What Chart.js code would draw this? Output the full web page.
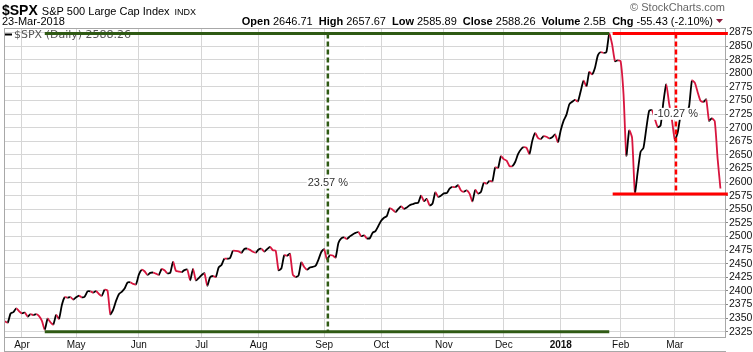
<!DOCTYPE html>
<html>
<head>
<meta charset="utf-8">
<script src="https://cdn.jsdelivr.net/npm/chart.js@4.4.1/dist/chart.umd.min.js"></script>
<style>
  html, body { margin: 0; padding: 0; background: #fff; }
  #wrap { width: 753px; height: 352px; }
</style>
</head>
<body>
<div id="wrap"><canvas id="spx" width="753" height="352"></canvas></div>
<script>
// daily closes, 24-Mar-2017 .. 23-Mar-2018
const closes = [
  // Mar 2017
  2343.98, 2341.59, 2358.57, 2361.13, 2368.06, 2362.72,
  // Apr
  2358.84, 2360.16, 2352.95, 2357.49, 2355.54, 2357.16, 2353.78, 2344.93, 2328.95, 2349.01,
  2342.19, 2338.17, 2355.84, 2348.69, 2374.15, 2388.61, 2387.45, 2388.77, 2384.20,
  // May
  2388.33, 2391.17, 2388.13, 2389.52, 2399.29, 2399.38, 2396.92, 2399.63, 2394.44, 2390.90, 2402.32,
  2400.67, 2357.03, 2365.72, 2381.73, 2394.02, 2398.42, 2404.39, 2415.07, 2415.82, 2412.91, 2411.80,
  // Jun
  2430.06, 2439.07, 2436.10, 2429.33, 2433.14, 2433.79, 2431.77, 2429.39, 2440.35, 2437.92, 2432.46,
  2433.15, 2453.46, 2437.03, 2435.61, 2434.50, 2438.30, 2439.07, 2419.38, 2440.69, 2419.70, 2423.41,
  // Jul
  2429.01, 2432.54, 2409.75, 2425.18, 2427.43, 2425.53, 2443.25, 2447.83, 2459.27, 2459.14,
  2460.61, 2473.83, 2473.45, 2472.54, 2469.91, 2477.13, 2477.83, 2475.42, 2472.10, 2470.30,
  // Aug
  2476.35, 2477.57, 2472.16, 2476.83, 2480.91, 2474.92, 2474.02, 2438.21, 2441.32, 2465.84, 2464.61, 2468.11,
  2430.01, 2425.55, 2428.37, 2452.51, 2444.04, 2438.97, 2443.05, 2444.24, 2446.30, 2457.59, 2471.65,
  // Sep
  2476.55, 2457.85, 2465.54, 2465.10, 2461.43, 2488.11, 2496.48, 2498.37, 2495.62, 2500.23,
  2503.87, 2506.65, 2508.24, 2500.60, 2502.22, 2496.66, 2496.84, 2507.04, 2510.06, 2519.36,
  // Oct
  2529.12, 2534.58, 2537.74, 2552.07, 2549.33, 2544.73, 2550.64, 2555.24, 2550.93, 2553.17, 2557.64,
  2559.36, 2561.26, 2562.10, 2575.21, 2564.98, 2569.13, 2557.15, 2560.40, 2581.07, 2572.83, 2575.26,
  // Nov
  2579.36, 2579.85, 2587.84, 2591.13, 2590.64, 2594.38, 2584.62, 2582.30, 2584.84, 2578.87, 2564.62,
  2585.64, 2578.85, 2582.14, 2599.03, 2597.08, 2602.42, 2601.42, 2627.04, 2626.07, 2647.58,
  // Dec
  2642.22, 2639.44, 2629.57, 2629.27, 2636.98, 2651.50, 2659.99, 2664.11, 2662.85, 2652.01,
  2675.81, 2690.16, 2681.47, 2679.25, 2684.57, 2683.34, 2680.50, 2682.62, 2687.54, 2673.61,
  // Jan 2018
  2695.81, 2713.06, 2723.99, 2743.15, 2747.71, 2751.29, 2748.23, 2767.56, 2786.24, 2776.42, 2802.56,
  2798.03, 2810.30, 2832.97, 2839.13, 2837.54, 2839.25, 2872.87, 2853.53, 2822.43, 2823.81,
  // Feb
  2821.98, 2762.13, 2648.94, 2695.14, 2681.66, 2581.00, 2619.55, 2656.00, 2662.94, 2698.63,
  2731.20, 2732.22, 2716.26, 2701.33, 2703.96, 2747.30, 2779.60, 2744.28, 2713.83,
  // Mar
  2677.67, 2691.25, 2720.94, 2728.12, 2726.80, 2738.97, 2786.57, 2783.02, 2765.31,
  2749.48, 2747.33, 2752.01, 2712.92, 2716.94, 2711.93, 2643.69, 2588.26
];

// index of first trading day of each month and its label
const monthTicks = [6, 25, 47, 69, 89, 112, 132, 154, 175, 195, 216, 235];
const monthLabels = ['Apr', 'May', 'Jun', 'Jul', 'Aug', 'Sep', 'Oct', 'Nov', 'Dec', '2018', 'Feb', 'Mar'];

const priceTicks = [2325, 2350, 2375, 2400, 2425, 2450, 2475, 2500, 2525, 2550, 2575, 2600,
  2625, 2650, 2675, 2700, 2725, 2750, 2775, 2800, 2825, 2850, 2875];

// drawn annotations (in data units: day index / price)
const riseLevels = [2325, 2873];
const riseSpan = [14, 212];
const riseMarkAt = 113.3;
const riseText = '23.57 %';
const fallLevels = [2578, 2873];
const fallSpan = [213.2, 253.6];
const fallMarkAt = 235.4;
const fallText = '-10.27 %';

const quote = [
  ['Open', '2646.71'], ['High', '2657.67'], ['Low', '2585.89'],
  ['Close', '2588.26'], ['Volume', '2.5B'], ['Chg', '-55.43 (-2.10%)']
];

const upColor = '#000000';
const downColor = '#d8163f';
const riseColor = '#2f5a14';
const fallColor = '#ff0000';

function drawMove(ctx, x, y, levels, span, markAt, text, color) {
  const xa = x.getPixelForValue(span[0]);
  const xb = x.getPixelForValue(span[1]);
  const ylo = y.getPixelForValue(levels[0]);
  const yhi = y.getPixelForValue(levels[1]);
  ctx.strokeStyle = color;
  ctx.lineWidth = 3;
  ctx.setLineDash([]);
  ctx.beginPath();
  ctx.moveTo(xa, ylo); ctx.lineTo(xb, ylo);
  ctx.moveTo(xa, yhi); ctx.lineTo(xb, yhi);
  ctx.stroke();
  const xm = x.getPixelForValue(markAt);
  ctx.lineWidth = 2.5;
  ctx.setLineDash([5, 3]);
  ctx.beginPath();
  ctx.moveTo(xm, yhi); ctx.lineTo(xm, ylo);
  ctx.stroke();
  ctx.setLineDash([]);
  // label with a white box over the line
  const ym = (ylo + yhi) / 2;
  ctx.font = '11px "Liberation Sans", Arial, sans-serif';
  const w = ctx.measureText(text).width;
  ctx.fillStyle = '#fff';
  ctx.fillRect(xm - w / 2 - 1, ym - 6, w + 2, 12);
  ctx.fillStyle = '#333';
  ctx.textAlign = 'center';
  ctx.textBaseline = 'middle';
  ctx.fillText(text, xm, ym + 0.5);
}

const overlay = {
  id: 'overlay',
  beforeDraw(chart) {
    const ctx = chart.ctx;
    ctx.save();
    ctx.fillStyle = '#fff';
    ctx.fillRect(0, 0, chart.width, chart.height);
    ctx.restore();
  },
  afterDatasetsDraw(chart) {
    const { ctx, scales: { x, y } } = chart;
    ctx.save();
    // legend
    ctx.strokeStyle = '#000';
    ctx.lineWidth = 2;
    ctx.beginPath();
    ctx.moveTo(5, 34.5); ctx.lineTo(12, 34.5);
    ctx.stroke();
    ctx.font = '11px "DejaVu Sans", sans-serif';
    ctx.fillStyle = '#555';
    ctx.textBaseline = 'middle';
    ctx.fillText('$SPX (Daily) ' + closes[closes.length - 1].toFixed(2), 14, 35);

    drawMove(ctx, x, y, riseLevels, riseSpan, riseMarkAt, riseText, riseColor);
    drawMove(ctx, x, y, fallLevels, fallSpan, fallMarkAt, fallText, fallColor);
    ctx.restore();
  },
  afterDraw(chart) {
    const { ctx, chartArea: a } = chart;
    ctx.save();
    // frame
    ctx.strokeStyle = '#a8a8a8';
    ctx.lineWidth = 1;
    ctx.beginPath();
    ctx.moveTo(a.left + 0.5, a.top + 0.5); ctx.lineTo(a.right + 0.5, a.top + 0.5);
    ctx.moveTo(a.left + 0.5, a.top); ctx.lineTo(a.left + 0.5, 352);
    ctx.moveTo(a.left, 351.5); ctx.lineTo(a.right + 1, 351.5);
    ctx.stroke();

    // header
    ctx.textBaseline = 'alphabetic';
    ctx.fillStyle = '#000';
    ctx.font = 'bold 14px "Liberation Sans", Arial, sans-serif';
    ctx.fillText('$SPX', 2, 15);
    let tx = 2 + ctx.measureText('$SPX').width + 4;
    ctx.font = '11px "Liberation Sans", Arial, sans-serif';
    ctx.fillText('S&P 500 Large Cap Index', tx, 15);
    tx += ctx.measureText('S&P 500 Large Cap Index').width + 5;
    ctx.font = '9px "Liberation Sans", Arial, sans-serif';
    ctx.fillText('INDX', tx, 15);

    ctx.font = '11px "Liberation Sans", Arial, sans-serif';
    ctx.fillText('23-Mar-2018', 2, 25);

    ctx.fillStyle = '#666';
    ctx.textAlign = 'right';
    ctx.fillText('\u00a9 StockCharts.com', 725, 11);

    // quote line, right aligned at 713
    ctx.textAlign = 'left';
    ctx.fillStyle = '#000';
    const boldF = 'bold 11px "Liberation Sans", Arial, sans-serif';
    const normF = '11px "Liberation Sans", Arial, sans-serif';
    const gap = 6;
    let total = 0;
    quote.forEach(([k, v], i) => {
      ctx.font = boldF; total += ctx.measureText(k).width;
      ctx.font = normF; total += ctx.measureText(' ' + v).width + (i < quote.length - 1 ? gap : 0);
    });
    let qx = 713 - total;
    quote.forEach(([k, v]) => {
      ctx.font = boldF; ctx.fillText(k, qx, 25); qx += ctx.measureText(k).width;
      ctx.font = normF; ctx.fillText(' ' + v, qx, 25); qx += ctx.measureText(' ' + v).width + gap;
    });
    // down marker
    ctx.fillStyle = '#8b1c3c';
    ctx.beginPath();
    ctx.moveTo(716, 19); ctx.lineTo(723, 19); ctx.lineTo(719.5, 23);
    ctx.closePath();
    ctx.fill();
    ctx.restore();
  }
};

new Chart(document.getElementById('spx'), {
  type: 'line',
  data: {
    datasets: [{
      data: closes.map((v, i) => ({ x: i, y: v })),
      borderColor: upColor,
      borderWidth: 1.8,
      pointRadius: 0,
      tension: 0.2,
      fill: false,
      segment: {
        borderColor: c => c.p1.parsed.y < c.p0.parsed.y ? downColor : upColor
      }
    }]
  },
  options: {
    responsive: false,
    animation: false,
    events: [],
    layout: { padding: { top: 28, left: 4, right: 0, bottom: 0 } },
    plugins: { legend: { display: false }, tooltip: { enabled: false } },
    scales: {
      x: {
        type: 'linear',
        min: -0.3,
        max: 252.6,
        afterBuildTicks: s => { s.ticks = monthTicks.map(v => ({ value: v })); },
        afterFit: s => { s.height = 15; },
        grid: { color: '#d6d6d6', drawTicks: false },
        border: { color: '#a8a8a8' },
        ticks: {
          autoSkip: false,
          maxRotation: 0,
          padding: 2,
          color: '#111',
          font: c => ({
            family: '"Liberation Sans", Arial, sans-serif',
            size: 10,
            weight: c.tick && c.tick.value === 195 ? 'bold' : 'normal'
          }),
          callback: v => monthLabels[monthTicks.indexOf(v)]
        }
      },
      y: {
        position: 'right',
        min: 2315.3,
        max: 2883.3,
        afterBuildTicks: s => { s.ticks = priceTicks.map(v => ({ value: v })); },
        afterFit: s => { s.width = 28; },
        grid: { color: '#d6d6d6', tickLength: 3, tickColor: '#888' },
        border: { color: '#a8a8a8' },
        ticks: {
          autoSkip: false,
          padding: 1,
          color: '#111',
          font: { family: '"Liberation Sans", Arial, sans-serif', size: 10.5 },
          callback: v => String(v)
        }
      }
    }
  },
  plugins: [overlay]
});
</script>
</body>
</html>
